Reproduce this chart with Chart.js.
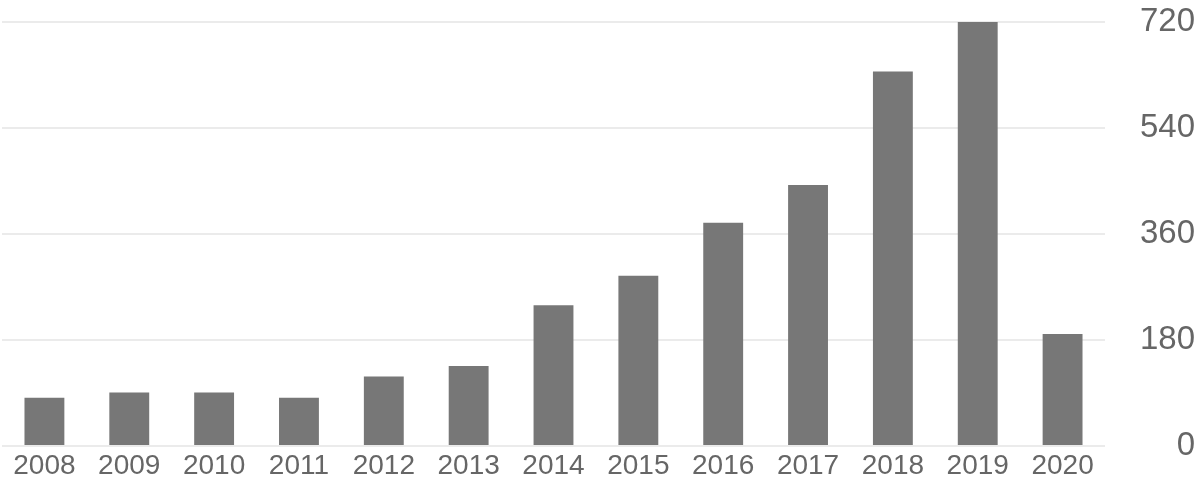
<!DOCTYPE html>
<html>
<head>
<meta charset="utf-8">
<script src="https://cdn.jsdelivr.net/npm/chart.js@4/dist/chart.umd.min.js"></script>
<style>
  html, body { margin: 0; padding: 0; background: #fff; }
  #wrap { width: 1200px; height: 488px; }
</style>
</head>
<body>
<div id="wrap"><canvas id="chart"></canvas></div>
<script>
// year categories and counts
const years = ['2008', '2009', '2010', '2011', '2012', '2013', '2014', '2015', '2016', '2017', '2018', '2019', '2020'];
const counts = [82, 91, 91, 82, 118, 136, 239, 289, 379, 443, 636, 721, 190];
const yTicks = [0, 180, 360, 540, 720];

document.addEventListener('DOMContentLoaded', function () {
  const data = {
    labels: years,
    datasets: [{
      data: counts,
      backgroundColor: '#777777',
      borderWidth: 0,
      barPercentage: 0.47,
      categoryPercentage: 1
    }]
  };

  const config = {
    type: 'bar',
    data: data,
    options: {
      responsive: true,
      maintainAspectRatio: false,
      animation: false,
      layout: { padding: { left: 2, right: 5, top: 22, bottom: 6 } },
      plugins: {
        legend: { display: false },
        tooltip: { enabled: false }
      },
      scales: {
        x: {
          grid: { display: false, drawTicks: false },
          border: { display: false },
          ticks: {
            color: '#666666',
            font: { family: 'Liberation Sans', size: 28 },
            padding: 3,
            maxRotation: 0,
            autoSkip: false
          },
          afterFit: function (axis) { axis.height = 36; }
        },
        y: {
          position: 'right',
          min: 0,
          max: 720,
          afterBuildTicks: function (axis) {
            axis.ticks = yTicks.map(v => ({ value: v }));
          },
          grid: { color: '#ebebeb', lineWidth: 2, drawTicks: true, tickLength: 33, tickColor: 'rgba(0,0,0,0)' },
          border: { display: false },
          ticks: {
            color: '#666666',
            font: { family: 'Liberation Sans', size: 33 },
            padding: 2,
            crossAlign: 'far'
          },
          afterFit: function (axis) { axis.width = 90; }
        }
      }
    }
  };

  var ctx = document.getElementById('chart').getContext('2d');
  var myChart = new Chart(ctx, config);
});
</script>
</body>
</html>
